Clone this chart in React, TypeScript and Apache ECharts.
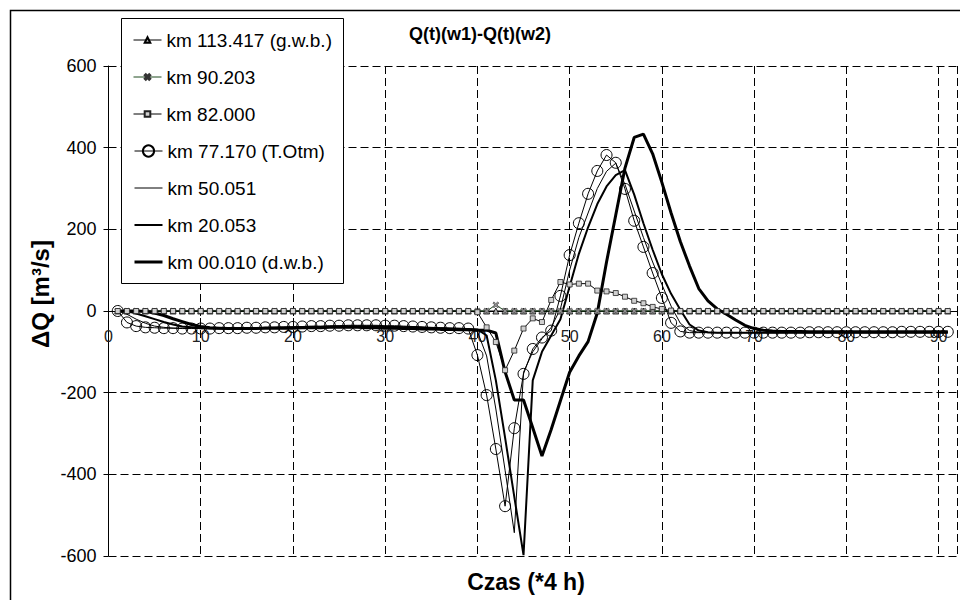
import React, { useEffect, useRef } from 'react';
import * as echarts from 'echarts';

const FONT = '"Liberation Sans", Arial, Helvetica, sans-serif';

const TITLE = 'Q(t)(w1)-Q(t)(w2)';
const X_NAME = 'Czas (*4 h)';
const Y_NAME = 'ΔQ [m³/s]';

const TIME = [
  1, 2, 3, 4, 5, 6, 7, 8, 9, 10,
  11, 12, 13, 14, 15, 16, 17, 18, 19, 20,
  21, 22, 23, 24, 25, 26, 27, 28, 29, 30,
  31, 32, 33, 34, 35, 36, 37, 38, 39, 40,
  41, 42, 43, 44, 45, 46, 47, 48, 49, 50,
  51, 52, 53, 54, 55, 56, 57, 58, 59, 60,
  61, 62, 63, 64, 65, 66, 67, 68, 69, 70,
  71, 72, 73, 74, 75, 76, 77, 78, 79, 80,
  81, 82, 83, 84, 85, 86, 87, 88, 89, 90,
  91,
];

const SERIES_NAMES = [
  'km 113.417 (g.w.b.)',
  'km 90.203',
  'km 82.000',
  'km 77.170 (T.Otm)',
  'km 50.051',
  'km 20.053',
  'km 00.010 (d.w.b.)',
];

const Q_113417 = [
  0, 0, 0, 0, 0, 0, 0, 0, 0, 0,
  0, 0, 0, 0, 0, 0, 0, 0, 0, 0,
  0, 0, 0, 0, 0, 0, 0, 0, 0, 0,
  0, 0, 0, 0, 0, 0, 0, 0, 0, 0,
  0, 0, 0, 0, 0, 0, 0, 0, 0, 0,
  0, 0, 0, 0, 0, 0, 0, 0, 0, 0,
  0, 0, 0, 0, 0, 0, 0, 0, 0, 0,
  0, 0, 0, 0, 0, 0, 0, 0, 0, 0,
  0, 0, 0, 0, 0, 0, 0, 0, 0, 0,
  0,
];

const Q_90203 = [
  0, 0, 0, 0, 0, 0, 0, 0, 0, 0,
  0, 0, 0, 0, 0, 0, 0, 0, 0, 0,
  0, 0, 0, 0, 0, 0, 0, 0, 0, 0,
  0, 0, 0, 0, 0, 0, 0, 0, 0, 0,
  0, 15, 0, 0, 0, 0, 0, 0, 0, 0,
  0, 0, 0, 0, 0, 0, 0, 0, 0, 0,
  0, 0, 0, 0, 0, 0, 0, 0, 0, 0,
  0, 0, 0, 0, 0, 0, 0, 0, 0, 0,
  0, 0, 0, 0, 0, 0, 0, 0, 0, 0,
  0,
];

const Q_82000 = [
  0, 0, 0, 0, 0, 0, 0, 0, 0, 0,
  0, 0, 0, 0, 0, 0, 0, 0, 0, 0,
  0, 0, 0, 0, 0, 0, 0, 0, 0, 0,
  0, 0, 0, 0, 0, 0, 0, 0, 0, -3,
  -40, -76, -145, -97, -43, -18, -27, 27, 71, 65,
  67, 67, 50, 48, 44, 35, 25, 19, 10, 5,
  1, 0, 0, 0, 0, 0, 0, 0, 0, 0,
  0, 0, 0, 0, 0, 0, 0, 0, 0, 0,
  0, 0, 0, 0, 0, 0, 0, 0, 0, 0,
  0,
];

const Q_77170 = [
  0, -28, -37, -40, -41, -42, -42, -43, -43, -43,
  -43, -42, -42, -42, -41, -41, -40, -40, -39, -39,
  -38, -37, -37, -36, -36, -35, -35, -35, -35, -36,
  -36, -37, -38, -39, -40, -41, -42, -42, -43, -108,
  -206, -338, -478, -287, -154, -93, -65, -48, 37, 137,
  215, 287, 343, 382, 363, 299, 221, 157, 93, 32,
  -29, -50, -53, -53, -53, -53, -53, -53, -53, -53,
  -53, -53, -53, -53, -53, -52, -52, -52, -52, -52,
  -52, -52, -52, -52, -52, -51, -51, -51, -51, -51,
  -51,
];

const Q_50051 = [
  0, -8, -20, -30, -37, -40, -42, -42, -42, -43,
  -43, -43, -42, -42, -42, -41, -41, -40, -40, -40,
  -39, -39, -38, -38, -38, -37, -37, -37, -37, -38,
  -38, -39, -39, -40, -41, -42, -43, -43, -44, -50,
  -110, -240, -390, -543, -150, -100, -68, -40, 5, 100,
  180, 240, 300, 342, 362, 310, 245, 180, 120, 65,
  12, -30, -48, -52, -53, -53, -53, -53, -53, -53,
  -53, -53, -53, -53, -53, -53, -53, -53, -53, -53,
  -53, -53, -53, -53, -53, -52, -52, -52, -52, -52,
  -52,
];

const Q_20053 = [
  0, 0, -6, -13, -20, -27, -33, -38, -40, -42,
  -43, -43, -43, -42, -42, -42, -41, -41, -41, -40,
  -40, -39, -39, -39, -38, -38, -38, -38, -38, -39,
  -39, -40, -40, -41, -42, -42, -43, -44, -44, -45,
  -60, -170, -310, -455, -598, -170, -100, -60, -20, 60,
  140, 205, 262, 305, 333, 345, 285, 215, 150, 90,
  42, 3, -33, -48, -52, -53, -53, -53, -53, -53,
  -53, -53, -53, -53, -53, -53, -53, -53, -53, -53,
  -53, -53, -53, -53, -53, -53, -53, -53, -53, -53,
  -53,
];

const Q_00010 = [
  0, 0, 0, -1, -5, -11, -19, -26, -33, -38,
  -41, -42, -43, -43, -43, -43, -42, -42, -42, -42,
  -41, -41, -41, -40, -40, -40, -40, -41, -41, -42,
  -42, -43, -43, -44, -44, -45, -45, -46, -46, -47,
  -47, -54, -149, -218, -218, -286, -355, -290, -220, -150,
  -110, -75, -5, 120, 235, 350, 425, 433, 385, 315,
  240, 170, 110, 55, 25, 5, -8, -22, -35, -43,
  -47, -49, -50, -50, -50, -51, -51, -51, -51, -51,
  -51, -51, -51, -51, -51, -51, -51, -51, -51, -51,
  -51,
];

const X_MIN = 0;
const X_MAX = 92;
const X_INTERVAL = 10;
const Y_MIN = -600;
const Y_MAX = 600;
const Y_INTERVAL = 200;

const GRID_LEFT = 108.5;
const GRID_RIGHT = -3.6;
const GRID_TOP = 66;
const GRID_BOTTOM = 44;
const CHART_H = 600;

const pairs = (vals: number[]) => vals.map((v, i) => [TIME[i], v]);

const X_SYMBOL = 'path://M0,2L2,0L5,3L8,0L10,2L7,5L10,8L8,10L5,7L2,10L0,8L3,5Z';
const CLEAR = 'rgba(0,0,0,0)';

export default function App() {
  const ref = useRef<HTMLDivElement>(null);

  useEffect(() => {
    if (!ref.current) return;
    const chart = echarts.init(ref.current, undefined, { renderer: 'svg' });

    // place the x axis line on y = 0 (the axis crosses the value axis at zero)
    const plotH = CHART_H - GRID_TOP - GRID_BOTTOM;
    const zeroFromBottom = (plotH * (0 - Y_MIN)) / (Y_MAX - Y_MIN);

    const plain = (name: string, data: number[], width: number) => ({
      type: 'line',
      name,
      data: pairs(data),
      symbol: 'circle',
      showSymbol: false,
      symbolSize: 0,
      itemStyle: { color: CLEAR, borderWidth: 0 },
      lineStyle: { color: '#000', width },
      silent: true,
      z: 2,
    });

    const legendCommon = {
      orient: 'vertical',
      left: 133,
      itemWidth: 28,
      itemGap: 18,
      padding: 0,
      selectedMode: false,
      textStyle: { fontSize: 19, color: '#000', fontFamily: FONT },
      lineStyle: { width: 'inherit' },
      z: 6,
    };

    const option: any = {
      animation: false,
      backgroundColor: '#ffffff',
      textStyle: { fontFamily: FONT },
      title: {
        text: TITLE,
        left: 'center',
        top: 20,
        textStyle: { fontFamily: FONT, fontSize: 18, fontWeight: 'bold', color: '#000' },
      },
      grid: { left: GRID_LEFT, right: GRID_RIGHT, top: GRID_TOP, bottom: GRID_BOTTOM, containLabel: false },
      xAxis: {
        type: 'value',
        min: X_MIN,
        max: X_MAX,
        interval: X_INTERVAL,
        offset: -zeroFromBottom,
        axisLine: { onZero: false, lineStyle: { color: '#000', width: 1 } },
        axisTick: { show: true, length: 5, lineStyle: { color: '#000' } },
        axisLabel: {
          color: '#222',
          fontSize: 16,
          margin: 17,
          fontFamily: FONT,
          formatter: (v: number) => (v % 10 === 0 ? String(v) : ''),
        },
        splitLine: { show: true, lineStyle: { color: '#000', width: 1, type: [8, 4] } },
      },
      yAxis: {
        type: 'value',
        min: Y_MIN,
        max: Y_MAX,
        interval: Y_INTERVAL,
        axisLine: { show: true, onZero: false, lineStyle: { color: '#000', width: 1 } },
        axisTick: { show: true, length: 5, lineStyle: { color: '#000' } },
        axisLabel: { color: '#000', fontSize: 18, margin: 12, fontFamily: FONT },
        splitLine: { show: true, lineStyle: { color: '#000', width: 1, type: [8, 4] } },
      },
      legend: [
        { ...legendCommon, data: SERIES_NAMES.slice(0, 3), top: 30.5, itemHeight: 7 },
        { ...legendCommon, data: SERIES_NAMES.slice(3), top: 141.5, itemHeight: 14 },
      ],
      graphic: [
        {
          type: 'rect',
          shape: { x: 10.5, y: 10.5, width: 960, height: 600 },
          style: { fill: CLEAR, stroke: '#000', lineWidth: 1.5 },
          z: 1,
          silent: true,
        },
        {
          type: 'rect',
          shape: { x: 121.5, y: 18.5, width: 222, height: 265 },
          style: { fill: '#fff', stroke: '#000', lineWidth: 1 },
          z: 5,
          silent: true,
        },
        {
          type: 'text',
          x: 526,
          y: 582,
          style: {
            text: X_NAME,
            font: `bold 23px ${FONT}`,
            fill: '#000',
            textAlign: 'center',
            textVerticalAlign: 'middle',
          },
          z: 6,
          silent: true,
        },
        {
          type: 'text',
          x: 40,
          y: 294,
          rotation: Math.PI / 2,
          style: {
            text: Y_NAME,
            font: `bold 24px ${FONT}`,
            fill: '#000',
            textAlign: 'center',
            textVerticalAlign: 'middle',
          },
          z: 6,
          silent: true,
        },
      ],
      series: [
        {
          type: 'line',
          name: SERIES_NAMES[0],
          data: pairs(Q_113417),
          symbol: 'triangle',
          symbolSize: 6,
          showSymbol: true,
          itemStyle: { color: '#b0b0b0', borderColor: '#000', borderWidth: 0.8 },
          lineStyle: { color: '#000', width: 1 },
          silent: true,
          z: 2,
        },
        {
          type: 'line',
          name: SERIES_NAMES[1],
          data: pairs(Q_90203),
          symbol: X_SYMBOL,
          symbolSize: 6,
          showSymbol: true,
          itemStyle: { color: '#909090', borderColor: '#333', borderWidth: 0.6 },
          lineStyle: { color: '#1f4a1f', width: 1 },
          silent: true,
          z: 2,
        },
        {
          type: 'line',
          name: SERIES_NAMES[2],
          data: pairs(Q_82000),
          symbol: 'rect',
          symbolSize: 5,
          showSymbol: true,
          itemStyle: { color: '#d0d0d0', borderColor: '#222', borderWidth: 0.8 },
          lineStyle: { color: '#000', width: 1 },
          silent: true,
          z: 2,
        },
        {
          type: 'line',
          name: SERIES_NAMES[3],
          data: pairs(Q_77170),
          symbol: 'circle',
          symbolSize: 11,
          showSymbol: true,
          itemStyle: { color: CLEAR, borderColor: '#000', borderWidth: 1 },
          lineStyle: { color: '#000', width: 1 },
          silent: true,
          z: 2,
        },
        plain(SERIES_NAMES[4], Q_50051, 1),
        plain(SERIES_NAMES[5], Q_20053, 2),
        plain(SERIES_NAMES[6], Q_00010, 3),
      ],
    };

    chart.setOption(option);
    return () => chart.dispose();
  }, []);

  return (
    <div
      ref={ref}
      style={{ position: 'absolute', left: 0, top: 0, width: 960, height: 600, background: '#fff' }}
    />
  );
}
